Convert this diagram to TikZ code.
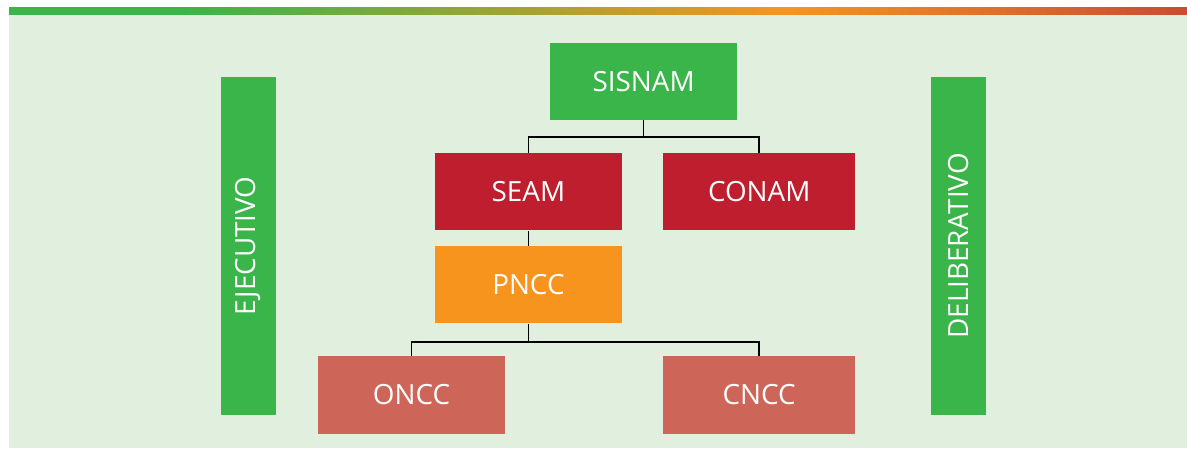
\documentclass[tikz,border=0pt]{standalone}
\usepackage{fontspec}
\setmainfont{Open Sans}
\usepackage{xcolor}
\usepackage{tikz}
\usetikzlibrary{positioning,arrows.meta}

\definecolor{sisgreen}{RGB}{58,181,74}
\definecolor{seamred}{RGB}{190,30,45}
\definecolor{pnccorange}{RGB}{247,148,29}
\definecolor{nccsalmon}{RGB}{205,102,88}
\definecolor{panelgreen}{RGB}{224,239,222}
\definecolor{barred}{RGB}{204,75,50}

\begin{document}
\begin{tikzpicture}[
    box/.style={fill=#1, text=white, minimum width=4.675cm, minimum height=1.925cm,
        font=\fontsize{19.8}{24}\selectfont, inner sep=0pt},
    sidebar/.style={fill=sisgreen, text=white, rotate=90, minimum width=8.45cm,
        minimum height=1.375cm, font=\fontsize{19.8}{24}\selectfont, inner sep=0pt},
    conn/.style={black, line width=1.1pt}
]
\useasboundingbox (0,0) rectangle (29.675,11.2);
% background, panel and top bar
\fill[white] (0,0) rectangle (29.675,11.2);
\fill[panelgreen] (0.225,0) rectangle (29.675,10.825);
\fill[sisgreen] (0.225,10.825) rectangle (4.55,11.025);
\foreach \i in {0,...,59} {
    \pgfmathsetmacro{\p}{\i*100/59}
    \fill[pnccorange!\p!sisgreen] ({4.5+\i*0.2533},10.825) rectangle ({4.5+(\i+1)*0.2533+0.02},11.025);
}
\foreach \i in {0,...,39} {
    \pgfmathsetmacro{\p}{\i*100/39}
    \fill[barred!\p!pnccorange] ({19.7+\i*0.2494},10.825) rectangle ({min(19.7+(\i+1)*0.2494+0.02,29.675)},11.025);
}

\node[box=sisgreen] (sisnam) at (16.09,9.16) {SISNAM};
\node[box=seamred] (seam) at (13.21,6.40) {SEAM};
\node[box=seamred, minimum width=4.8cm] (conam) at (18.98,6.40) {CONAM};
\node[box=pnccorange] (pncc) at (13.21,4.075) {PNCC};
\node[box=nccsalmon] (oncc) at (10.29,1.325) {ONCC};
\node[box=nccsalmon, minimum width=4.8cm] (cncc) at (18.98,1.325) {CNCC};

\node[sidebar] (ejecutivo) at (6.21,5.05) {EJECUTIVO};
\node[sidebar] (deliberativo) at (23.96,5.05) {DELIBERATIVO};

\draw[conn] (sisnam.south) -- ++(0,-0.41) -| (seam.north);
\draw[conn] (sisnam.south) -- ++(0,-0.41) -| (conam.north);
\draw[conn] (seam.south) -- (pncc.north);
\draw[conn] (pncc.south) -- ++(0,-0.45) -| (oncc.north);
\draw[conn] (pncc.south) -- ++(0,-0.45) -| (cncc.north);

\end{tikzpicture}
\end{document}
